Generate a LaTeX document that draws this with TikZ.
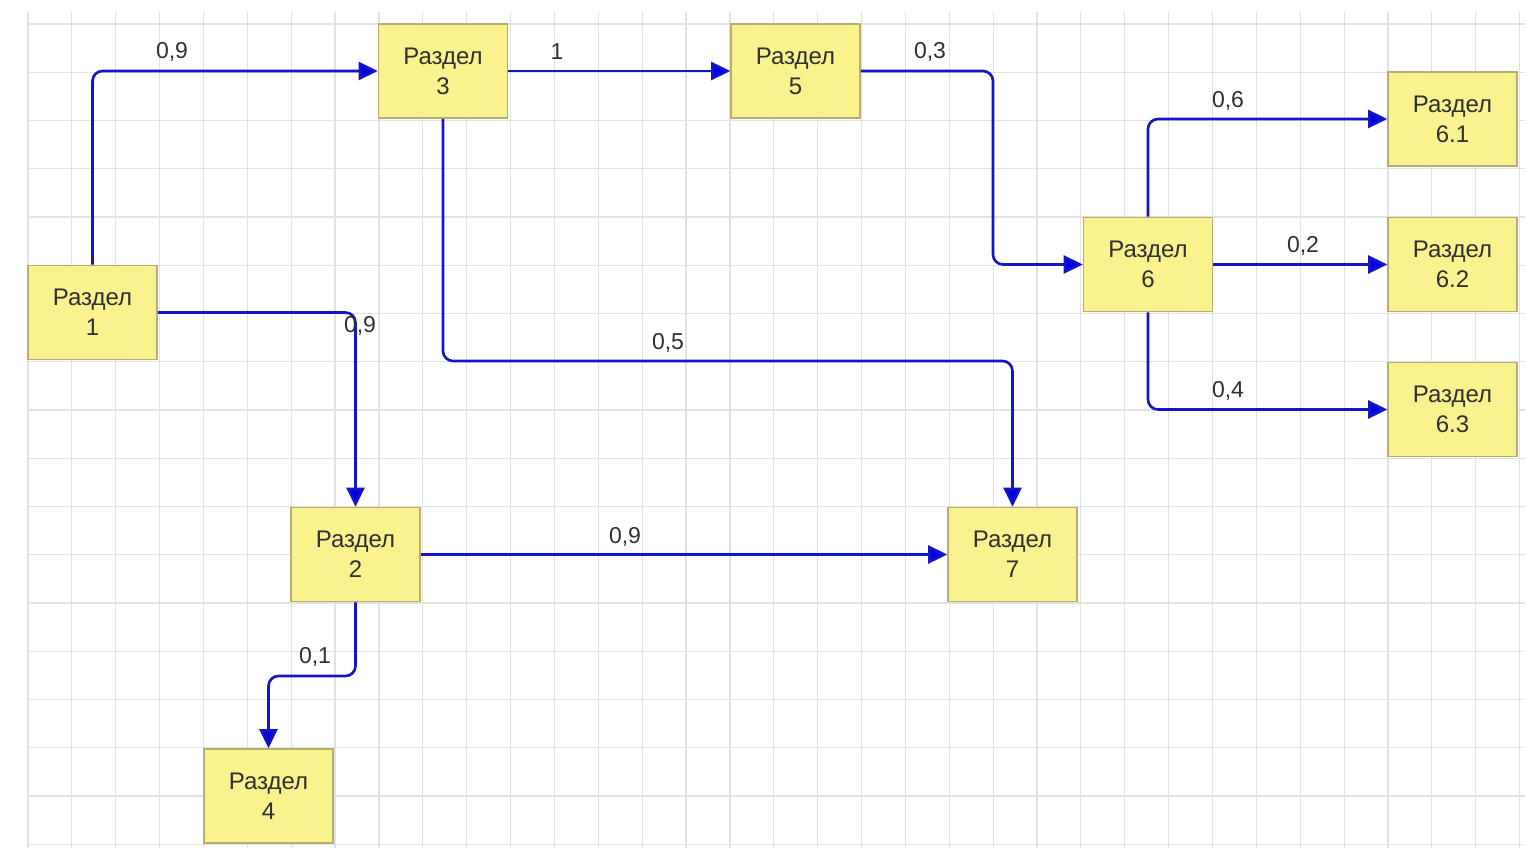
\documentclass[tikz,border=0pt]{standalone}
\usepackage{fontspec}
\setmainfont{Liberation Sans}
\usetikzlibrary{arrows.meta,calc}
\definecolor{boxfill}{HTML}{FAF28E}
\definecolor{boxdraw}{HTML}{B5AE6E}
\definecolor{gridc}{HTML}{E2E2E2}
\definecolor{arrowc}{HTML}{1414C8}
\definecolor{txtc}{HTML}{303030}
\tikzset{
  sect/.style={draw=boxdraw, line width=1.6pt, fill=boxfill, minimum width=129pt, minimum height=94pt,
    inner sep=0pt, align=center, text=txtc, font=\fontsize{24}{30}\selectfont},
  conn/.style={draw=arrowc, line width=2.6pt, rounded corners=10pt,
    -{Triangle[length=19pt,width=18pt,fill=blue!90!black]}},
  lbl/.style={text=txtc, font=\fontsize{23}{26}\selectfont, inner sep=0pt}
}
\begin{document}
\begin{tikzpicture}[x=1pt,y=-1pt]
\useasboundingbox (0,0) rectangle (1525,848);
\fill[white] (0,0) rectangle (1525,848);
% grid
\foreach \k in {0,...,34} {\draw[gridc, line width=1.2pt] ({28+43.87*\k},12) -- ({28+43.87*\k},848);}
\foreach \k in {0,...,17} {\draw[gridc, line width=1.2pt] (28,{24+48.25*\k}) -- (1525,{24+48.25*\k});}
% nodes
\node[sect] (r1) at (92.5,312.5) {Раздел\\1};
\node[sect] (r3) at (443,71) {Раздел\\3};
\node[sect] (r5) at (795.5,71) {Раздел\\5};
\node[sect] (r6) at (1148,264.5) {Раздел\\6};
\node[sect] (r61) at (1452.5,119) {Раздел\\6.1};
\node[sect] (r62) at (1452.5,264.5) {Раздел\\6.2};
\node[sect] (r63) at (1452.5,409.5) {Раздел\\6.3};
\node[sect] (r2) at (355.5,554.5) {Раздел\\2};
\node[sect] (r7) at (1012.5,554.5) {Раздел\\7};
\node[sect] (r4) at (268.5,796) {Раздел\\4};
% helper coordinates
\coordinate (c56) at (993,0);
\coordinate (c37) at (0,361);
\coordinate (c24) at (0,676);
% connectors
\draw[conn] (r1.north) |- (r3.west);
\draw[conn] (r1.east) -| (r2.north);
\draw[conn] (r3.east) -- (r5.west);
\draw[conn] (r5.east) -- (c56 |- r5.east) |- (r6.west);
\draw[conn] (r3.south) -- (r3.south |- c37) -| (r7.north);
\draw[conn] (r2.east) -- (r7.west);
\draw[conn] (r2.south) -- (r2.south |- c24) -| (r4.north);
\draw[conn] (r6.north) |- (r61.west);
\draw[conn] (r6.east) -- (r62.west);
\draw[conn] (r6.south) |- (r63.west);
% labels
\node[lbl] (l13) at (172,52) {0,9};
\node[lbl] (l12) at (360,326) {0,9};
\node[lbl] (l35) at (557,52) {1};
\node[lbl] (l56) at (930,52) {0,3};
\node[lbl] (l37) at (668,343) {0,5};
\node[lbl] (l27) at (625,537) {0,9};
\node[lbl] (l24) at (315,657) {0,1};
\node[lbl] (l661) at (1228,101) {0,6};
\node[lbl] (l662) at (1303,246) {0,2};
\node[lbl] (l663) at (1228,391) {0,4};
\end{tikzpicture}
\end{document}
